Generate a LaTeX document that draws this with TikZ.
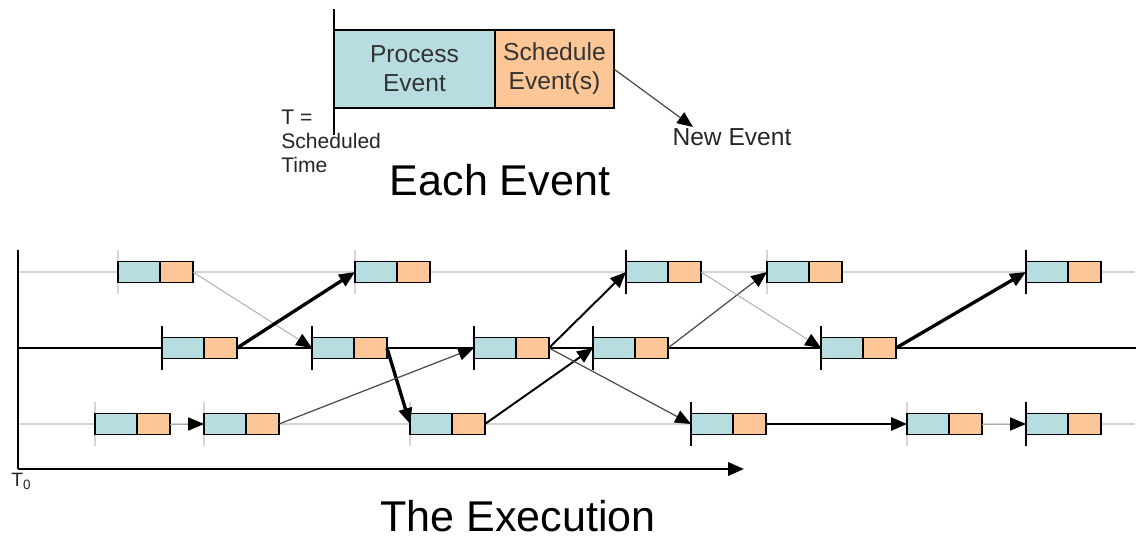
\documentclass[tikz,border=0pt]{standalone}
\usepackage{fontspec}
\setmainfont{Liberation Sans}
\usetikzlibrary{arrows.meta,positioning}

\definecolor{procblue}{HTML}{B7DDE0}
\definecolor{schedorange}{HTML}{FDC696}
\definecolor{rowgrey}{HTML}{D4D4D4}
\definecolor{thingrey}{HTML}{A8A8A8}
\definecolor{darkgrey}{HTML}{4A4A4A}

\begin{document}
\begin{tikzpicture}[x=0.02cm,y=-0.02cm,
  box/.style={draw=black,line width=1.1pt,inner sep=0pt,outer sep=0pt,minimum height=0.42cm},
  pbox/.style={box,fill=procblue,minimum width=0.84cm},
  sbox/.style={box,fill=schedorange,minimum width=0.66cm},
  gtick/.style={draw=rowgrey,line width=0.6pt},
  ktick/.style={draw=black,line width=1.3pt},
  tip/.style={-{Triangle[length=9pt,width=7.5pt,color=black]}},
  thinarr/.style={tip,draw=thingrey,line width=0.5pt},
  darkarr/.style={tip,draw=darkgrey,line width=0.7pt},
  midarr/.style={tip,draw=black,line width=1.1pt},
  fatarr/.style={tip,draw=black,line width=1.9pt},
  label/.style={inner sep=0pt,text=black!85}]
\useasboundingbox (0,0) rectangle (1144,541);

\draw[ktick] (334,9) -- (334,135);
\node[draw=black,line width=1pt,fill=procblue,outer sep=0pt,minimum width=3.22cm,minimum height=1.56cm,
  anchor=west,align=center,font=\fontsize{14}{16.5}\selectfont,text=black!80] (proc) at (334,69) {Process\\Event};
\node[draw=black,line width=1pt,fill=schedorange,outer sep=0pt,minimum width=2.38cm,minimum height=1.56cm,
  right=0pt of proc,align=center,font=\fontsize{14}{16.5}\selectfont,text=black!80] (sched) {Schedule\\Event(s)};
\coordinate (newev) at (693,127);
\draw[darkarr] (sched.east) -- (newev);
\node[label,font=\fontsize{14}{16.5}\selectfont] (newtxt) at (732,137) {New Event};
\node[label,anchor=west,align=left,font=\fontsize{12}{13.6}\selectfont] (ttxt) at (281,141) {T =\\Scheduled\\Time};
\node[label,font=\fontsize{24.5}{28}\selectfont,text=black] (each) at (500,180) {Each Event};

\coordinate (ytop) at (18,250);
\coordinate (orig) at (18,469);
\coordinate (xend) at (744,469);
\draw[line width=1.4pt] (ytop) -- (orig);
\draw[line width=1.4pt,-{Triangle[length=9pt,width=7.5pt]}] (orig) -- (xend);
\node[label,anchor=west,font=\fontsize{11}{13}\selectfont] (tzero) at (11,481) {T\textsubscript{0}};
\node[label,font=\fontsize{24.5}{28}\selectfont,text=black] (exec) at (518,516) {The Execution};

\draw[draw=rowgrey,line width=0.6pt] (20,272) -- (1135,272);
\draw[draw=black,line width=1.4pt] (18,348) -- (1136,348);
\draw[draw=rowgrey,line width=0.6pt] (20,424) -- (1135,424);

\foreach \n/\x/\y/\t in {e1/118/272/gtick,e2/355/272/gtick,e3/626/272/ktick,e4/767/272/gtick,e5/1026/272/ktick,
  m1/162/348/ktick,m2/312/348/ktick,m3/474/348/ktick,m4/593/348/ktick,m5/821/348/ktick,
  b1/95/424/gtick,b2/204/424/gtick,b3/410/424/gtick,b4/691/424/ktick,b5/907/424/gtick,b6/1026/424/ktick}{
  \draw[\t] (\x,\y-22) -- (\x,\y+22);
  \node[pbox,anchor=west] (\n p) at (\x,\y) {};
  \node[sbox,right=0pt of \n p] (\n s) {};
}

\draw[thinarr] (e1s.east) -- (m2p.west);
\draw[fatarr] (m1s.east) -- (e2p.west);
\draw[thinarr] (b1s.east) -- (b2p.west);
\draw[fatarr] (m2s.east) -- (b3p.west);
\draw[darkarr] (b2s.east) -- (m3p.west);
\draw[midarr] (b3s.east) -- (m4p.west);
\draw[midarr] (m3s.east) -- (e3p.west);
\draw[darkarr] (m3s.east) -- (b4p.west);
\draw[darkarr] (m4s.east) -- (e4p.west);
\draw[thinarr] (e3s.east) -- (m5p.west);
\draw[fatarr] (m5s.east) -- (e5p.west);
\draw[midarr] (b4s.east) -- (b5p.west);
\draw[thinarr] (b5s.east) -- (b6p.west);

\end{tikzpicture}
\end{document}
